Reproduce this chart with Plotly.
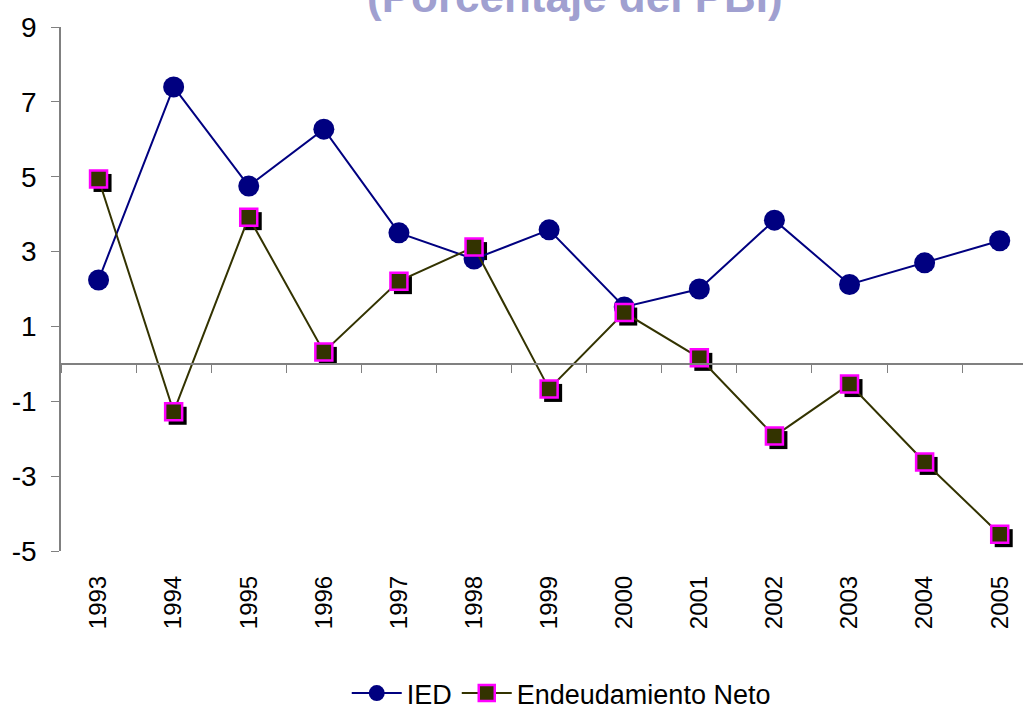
import plotly.graph_objects as go

years = [1993, 1994, 1995, 1996, 1997, 1998, 1999, 2000, 2001, 2002, 2003, 2004, 2005]
ied = [2.24, 7.40, 4.75, 6.27, 3.50, 2.80, 3.58, 1.52, 2.00, 3.84, 2.12, 2.70, 3.29]
endeud = [4.94, -1.28, 3.92, 0.32, 2.21, 3.12, -0.67, 1.37, 0.16, -1.93, -0.54, -2.62, -4.55]
ytick_vals = [-5, -3, -1, 1, 3, 5, 7, 9]
ytick_text = ["-5", "-3", "-1", "1", "3", "5", "7", "9"]
title_text = "(Porcentaje del PBI)"

FONT = "Liberation Sans, Arial, sans-serif"
XR = [1992.5, 2005.31]
YR = [-5, 9]
# shadow offset (pixels -> data units)
px_x = (XR[1] - XR[0]) / 962.0
px_y = (YR[1] - YR[0]) / 524.0
sh = 4

fig = go.Figure()

# shadow of squares (drawn on base axes shifted by a few pixels)
fig.add_trace(go.Scatter(
    x=years, y=endeud, mode="markers", showlegend=False, hoverinfo="skip",
    marker=dict(symbol="square", size=18, color="black", line=dict(width=0)),
    xaxis="x", yaxis="y"))

fig.add_trace(go.Scatter(
    x=years, y=ied, mode="lines+markers", name="IED",
    line=dict(color="#000080", width=2),
    marker=dict(symbol="circle", size=21, color="#000080"),
    xaxis="x2", yaxis="y2"))

fig.add_trace(go.Scatter(
    x=years, y=endeud, mode="lines+markers", name="Endeudamiento Neto",
    line=dict(color="#333300", width=2),
    marker=dict(symbol="square", size=17, color="#333300",
                line=dict(color="#FF00FF", width=2.5)),
    xaxis="x2", yaxis="y2"))

fig.update_layout(
    width=1023, height=711,
    margin=dict(l=61, r=0, t=27, b=160, autoexpand=False),
    paper_bgcolor="white", plot_bgcolor="white",
    showlegend=True,
    xaxis=dict(range=[XR[0] - sh * px_x, XR[1] - sh * px_x], visible=False, fixedrange=True),
    yaxis=dict(range=[YR[0] + sh * px_y, YR[1] + sh * px_y], visible=False, fixedrange=True),
    xaxis2=dict(overlaying="x", anchor="y2", range=XR, tickmode="array", tickvals=years,
                ticktext=[str(y) for y in years], tickangle=-90, ticks="",
                showline=False, showgrid=False, zeroline=False, automargin=False,
                ticklabelstandoff=19,
                tickfont=dict(family=FONT, size=24, color="black")),
    yaxis2=dict(overlaying="y", anchor="x2", range=YR, tickmode="array", tickvals=ytick_vals,
                ticktext=ytick_text, automargin=False,
                ticks="outside", ticklen=8, tickcolor="#808080", tickwidth=1,
                showline=True, linecolor="#808080", linewidth=1.5,
                showgrid=False, zeroline=False, ticklabelstandoff=9,
                tickfont=dict(family=FONT, size=28, color="black")),
    xaxis3=dict(overlaying="x", anchor="free", position=5 / 14, range=XR,
                tickmode="linear", tick0=1992.5, dtick=1, ticks="outside", ticklen=8,
                tickcolor="#808080", showticklabels=False, showline=True, automargin=False,
                linecolor="#808080", linewidth=1.5, showgrid=False, zeroline=False),
    legend=dict(orientation="h", x=0.52, xanchor="center", y=-0.272, yanchor="middle",
                font=dict(family=FONT, size=27, color="black"), itemsizing="trace",
                itemwidth=50, bgcolor="rgba(0,0,0,0)"),
    annotations=[dict(text="<b>" + title_text + "</b>", xref="paper", yref="paper",
                      x=0.534, y=1.008, xanchor="center", yanchor="bottom", showarrow=False,
                      font=dict(family=FONT, size=44, color="#A0A0D0"))],
)

# invisible trace on xaxis3 so the axis is rendered
fig.add_trace(go.Scatter(x=[XR[0]], y=[0], mode="markers", showlegend=False, hoverinfo="skip",
                         marker=dict(opacity=0), xaxis="x3", yaxis="y2"))

fig.write_html("out.html", config={"displayModeBar": False},
               post_script="document.body.style.margin='0px';document.body.style.padding='0px';")
